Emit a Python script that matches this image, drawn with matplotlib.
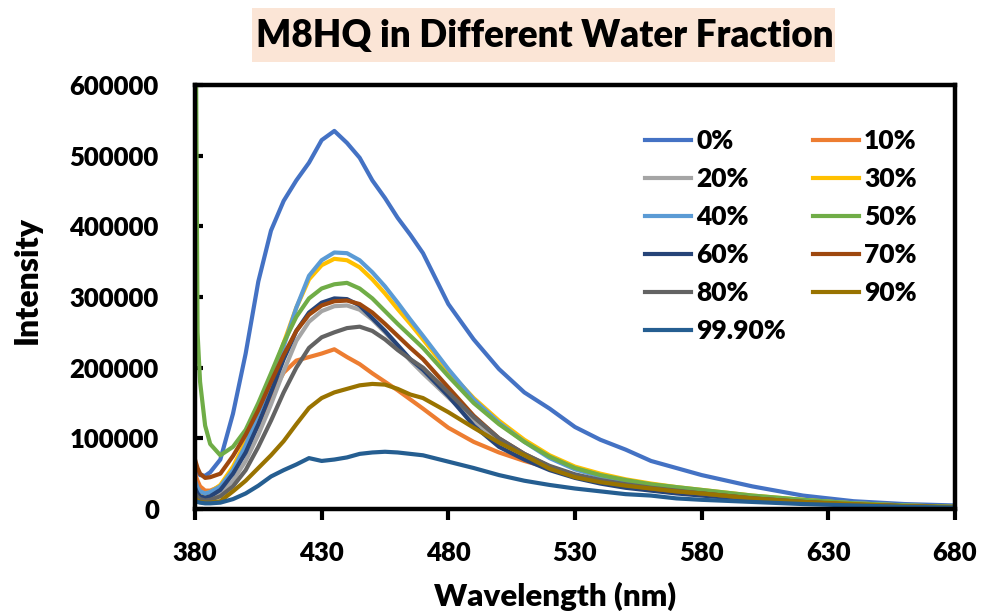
import matplotlib.pyplot as plt
from matplotlib.patches import Rectangle

# emission spectra, intensity in thousands of counts
wavelength = [380, 381, 382, 384, 386, 390, 395, 400, 405, 410, 415, 420, 425, 430, 435, 440,
              445, 450, 455, 460, 465, 470, 480, 490, 500, 510, 520, 530, 540, 550, 560, 570,
              580, 600, 620, 640, 660, 680]

w0 = [60, 52, 48, 47, 52, 70, 135, 220, 322, 394, 436, 465, 490, 522, 535, 518,
      497, 465, 440, 412, 388, 362, 290, 240, 198, 165, 142, 116, 98, 84, 68, 58,
      48, 32, 19, 11, 7, 5]
w10 = [50, 40, 32, 26, 26, 32, 52, 82, 120, 160, 193, 210, 215, 220, 226, 215,
       205, 192, 180, 168, 155, 142, 115, 95, 80, 68, 58, 48, 40, 34, 29, 25,
       21, 14, 9, 6, 4, 2]
w20 = [25, 20, 17, 15, 16, 22, 40, 68, 105, 148, 195, 238, 265, 280, 287, 288,
       282, 268, 250, 230, 210, 192, 158, 125, 97, 76, 59, 48, 40, 34, 29, 25,
       22, 15, 10, 6, 4, 2]
w30 = [35, 28, 24, 22, 24, 34, 60, 95, 140, 185, 235, 285, 325, 345, 354, 352,
       342, 325, 305, 283, 262, 240, 195, 157, 125, 98, 76, 60, 50, 42, 36, 31,
       27, 19, 13, 8, 5, 3]
w40 = [40, 30, 25, 22, 24, 32, 55, 90, 135, 178, 230, 285, 330, 352, 363, 362,
       352, 335, 315, 292, 268, 245, 198, 155, 122, 95, 72, 56, 46, 39, 34, 30,
       26, 18, 12, 8, 5, 3]
w50 = [900, 250, 180, 118, 92, 76, 88, 112, 150, 192, 235, 272, 298, 312, 318, 320,
       312, 298, 280, 262, 245, 228, 188, 150, 120, 95, 74, 58, 48, 41, 35, 31,
       27, 19, 13, 8, 5, 3]
w60 = [30, 22, 18, 16, 18, 27, 50, 80, 120, 165, 212, 252, 278, 292, 298, 297,
       288, 270, 252, 232, 212, 197, 160, 118, 88, 70, 55, 44, 36, 30, 26, 22,
       19, 13, 9, 6, 4, 2]
w70 = [70, 58, 50, 44, 45, 50, 75, 105, 140, 180, 218, 252, 275, 288, 294, 295,
       290, 278, 262, 245, 228, 212, 172, 132, 100, 78, 60, 48, 40, 34, 29, 25,
       22, 15, 10, 6, 4, 2]
w80 = [22, 17, 14, 12, 13, 18, 32, 55, 88, 125, 165, 200, 228, 243, 250, 256,
       258, 252, 240, 225, 212, 200, 165, 130, 100, 78, 61, 49, 41, 35, 30, 26,
       22, 15, 10, 6, 4, 2]
w90 = [15, 12, 10, 9, 9, 11, 25, 40, 58, 76, 96, 120, 143, 157, 165, 170,
       175, 177, 176, 170, 162, 157, 137, 115, 94, 76, 57, 45, 38, 33, 29, 25,
       22, 15, 10, 7, 4, 3]
w999 = [12, 10, 9, 8, 8, 9, 14, 22, 33, 46, 55, 63, 72, 68, 70, 73,
        78, 80, 81, 80, 78, 76, 67, 58, 48, 40, 34, 29, 25, 21, 19, 15,
        13, 10, 7, 5, 3, 2]

labels = ["0%", "10%", "20%", "30%", "40%", "50%", "60%", "70%", "80%", "90%", "99.90%"]
series = [w0, w10, w20, w30, w40, w50, w60, w70, w80, w90, w999]
colors = ["#4472C4", "#ED7D31", "#A5A5A5", "#FFC000", "#5B9BD5", "#70AD47",
          "#264478", "#9E480E", "#636363", "#997300", "#255E91"]

plt.rcParams['font.family'] = ['Lato', 'DejaVu Sans']
plt.rcParams['font.weight'] = 'heavy'
plt.rcParams['axes.labelweight'] = 'heavy'

fig = plt.figure(figsize=(9.81, 6.15), dpi=100)
ax = fig.add_axes([195 / 981, 1 - 509 / 615, 760 / 981, 424 / 615])

lines = []
for vals, lab, col in zip(series, labels, colors):
    ln, = ax.plot(wavelength, [v * 1000 for v in vals], color=col, lw=3, label=lab)
    lines.append(ln)

ax.set_xlim(380, 680)
ax.set_ylim(0, 600000)
ax.set_xticks(range(380, 681, 50))
ax.set_yticks(range(0, 600001, 100000))

for sp in ax.spines.values():
    sp.set_linewidth(3.2)
ax.tick_params(axis='y', direction='in', length=6, width=3, pad=26, labelsize=18.5)
ax.tick_params(axis='x', direction='out', length=8, width=3, pad=15, labelsize=18.5)

ax.set_xlabel("Wavelength (nm)", fontsize=22.5, labelpad=12)
ax.set_ylabel("Intensity", fontsize=23, labelpad=20)
ax.xaxis.label.set_x(0.474)
ax.yaxis.label.set_y(0.54)

# legend rows read left to right: reorder for column-major filling
order = [0, 2, 4, 6, 8, 10, 1, 3, 5, 7, 9]
ax.legend([lines[i] for i in order], [labels[i] for i in order], ncol=2, frameon=False,
          loc='upper left', bbox_to_anchor=(0.592, 0.896), borderaxespad=0, borderpad=0,
          fontsize=19, handlelength=1.75, handletextpad=0.2, columnspacing=1.0,
          labelspacing=0.53)

# title with shaded box
fig.add_artist(Rectangle((252 / 981, 1 - 62 / 615), 583 / 981, 54 / 615,
                         transform=fig.transFigure, facecolor="#FBE5D6", edgecolor='none'))
fig.text(545 / 981, 1 - 36 / 615, "M8HQ in Different Water Fraction", fontsize=26.5,
         ha='center', va='center')

fig.savefig("out.png", dpi=100)
